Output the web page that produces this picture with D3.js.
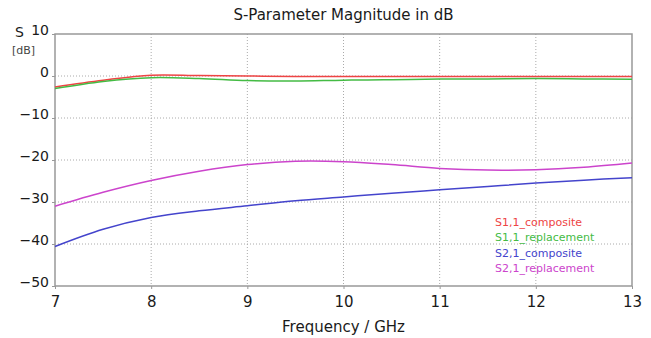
<!DOCTYPE html>
<html>
<head>
<meta charset="utf-8">
<script src="https://cdn.jsdelivr.net/npm/d3@7"></script>
<style>
  html, body { margin: 0; padding: 0; background: #fff; }
  svg { display: block; font-family: "DejaVu Sans", Verdana, sans-serif; }
</style>
</head>
<body>
<svg id="chart" width="651" height="338"></svg>
<script>
const freq = [7, 7.5, 8, 8.5, 9, 9.5, 10, 10.5, 11, 11.5, 12, 12.5, 13];
const s11Composite = [-2.6, -1.0, 0.2, 0.1, 0.0, -0.1, -0.1, -0.1, -0.1, -0.1, -0.1, -0.1, -0.1];
const s11Replacement = [-3.0, -1.3, -0.4, -0.6, -1.1, -1.2, -1.0, -0.9, -0.7, -0.7, -0.6, -0.7, -0.8];
const s21Composite = [-40.6, -36.5, -33.7, -32.1, -30.9, -29.7, -28.8, -27.9, -27.1, -26.3, -25.5, -24.8, -24.2];
const s21Replacement = [-31.0, -27.7, -24.9, -22.7, -21.1, -20.3, -20.4, -21.1, -22.0, -22.4, -22.3, -21.7, -20.7];
const seriesNames = ["S1,1_composite", "S1,1_replacement", "S2,1_composite", "S2,1_replacement"];
const seriesColors = ["#ee4444", "#44bb44", "#4444cc", "#cc44cc"];
const xTicks = [7, 8, 9, 10, 11, 12, 13];
const yTicks = [10, 0, -10, -20, -30, -40, -50];

const width = 651, height = 338;
const margin = {top: 34, right: 19, bottom: 52, left: 55};

const svg = d3.select("#chart");

const x = d3.scaleLinear()
  .domain([7, 13])
  .range([margin.left, width - margin.right]);

const y = d3.scaleLinear()
  .domain([-50, 10])
  .range([height - margin.bottom, margin.top]);

// grid
svg.append("g")
  .attr("stroke", "#aaa")
  .attr("stroke-dasharray", "1,2")
  .call(g => g.selectAll("line.v").data(xTicks.slice(1, -1)).enter().append("line")
    .attr("x1", d => x(d)).attr("x2", d => x(d))
    .attr("y1", y(10)).attr("y2", y(-50)))
  .call(g => g.selectAll("line.h").data(yTicks.slice(1, -1)).enter().append("line")
    .attr("y1", d => y(d)).attr("y2", d => y(d))
    .attr("x1", x(7)).attr("x2", x(13)));

// frame
svg.append("rect")
  .attr("x", x(7)).attr("y", y(10))
  .attr("width", x(13) - x(7)).attr("height", y(-50) - y(10))
  .attr("fill", "none").attr("stroke", "#999").attr("stroke-width", 1.5);

// axes
const xAxis = g => g
  .attr("transform", `translate(0,${y(-50)})`)
  .call(d3.axisBottom(x).tickValues(xTicks).tickSize(3).tickFormat(d3.format("d")))
  .call(g => g.select(".domain").remove())
  .call(g => g.selectAll(".tick line").attr("stroke", "#999"))
  .call(g => g.selectAll(".tick text").attr("font-size", 15).attr("fill", "#1a1a1a")
    .attr("font-family", "DejaVu Sans, sans-serif").attr("dy", "1.0em"));

const yAxis = g => g
  .attr("transform", `translate(${x(7)},0)`)
  .call(d3.axisLeft(y).tickValues(yTicks).tickSize(3).tickFormat(d3.format("d")))
  .call(g => g.select(".domain").remove())
  .call(g => g.selectAll(".tick line").attr("stroke", "#999"))
  .call(g => g.selectAll(".tick text").attr("font-size", 14).attr("fill", "#1a1a1a")
    .attr("font-family", "DejaVu Sans, sans-serif").attr("x", -6).attr("dy", "0.0em"));

svg.append("g").call(xAxis);
svg.append("g").call(yAxis);

// lines
const allSeries = [s11Composite, s11Replacement, s21Composite, s21Replacement];
const line = d3.line()
  .x((d, i) => x(freq[i]))
  .y(d => y(d))
  .curve(d3.curveCatmullRom);

svg.append("g")
  .attr("fill", "none")
  .attr("stroke-width", 1.5)
  .selectAll("path")
  .data(allSeries)
  .enter().append("path")
  .attr("stroke", (d, i) => seriesColors[i])
  .attr("d", line);

// titles
svg.append("text")
  .attr("x", (x(7) + x(13)) / 2).attr("y", 20)
  .attr("text-anchor", "middle").attr("font-size", 15).attr("fill", "#1a1a1a")
  .text("S-Parameter Magnitude in dB");

svg.append("text")
  .attr("x", (x(7) + x(13)) / 2).attr("y", 332)
  .attr("text-anchor", "middle").attr("font-size", 15).attr("fill", "#1a1a1a")
  .text("Frequency / GHz");

svg.append("text")
  .attr("x", 15).attr("y", 37)
  .attr("font-size", 14).attr("fill", "#1a1a1a")
  .text("S");

svg.append("text")
  .attr("x", 12).attr("y", 54)
  .attr("font-size", 11).attr("fill", "#444")
  .text("[dB]");

// legend
svg.append("g")
  .attr("font-size", 11)
  .selectAll("text")
  .data(seriesNames)
  .enter().append("text")
  .attr("x", 495)
  .attr("y", (d, i) => 226 + i * 15.3)
  .attr("fill", (d, i) => seriesColors[i])
  .text(d => d);
</script>
</body>
</html>
